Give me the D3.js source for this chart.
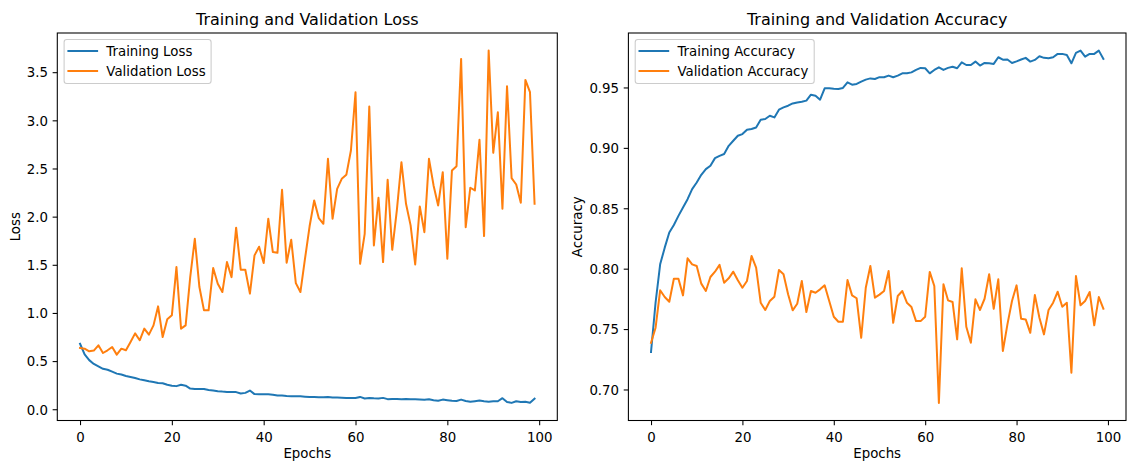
<!DOCTYPE html>
<html>
<head>
<meta charset="utf-8">
<script src="https://cdn.jsdelivr.net/npm/d3@7"></script>
<style>
  html, body { margin: 0; padding: 0; background: #fff; }
  svg { display: block; }
  text { font-family: "DejaVu Sans", sans-serif; fill: #000; }
</style>
</head>
<body>
<svg id="fig" width="1128" height="465"></svg>
<script>
// ---- data -------------------------------------------------------------
const epochs = d3.range(0, 100);

const trainLoss = [
  0.680, 0.570, 0.510, 0.470, 0.445, 0.420, 0.410, 0.390, 0.370, 0.360,
  0.345, 0.335, 0.325, 0.310, 0.300, 0.290, 0.283, 0.273, 0.270, 0.255,
  0.245, 0.240, 0.255, 0.245, 0.215, 0.210, 0.210, 0.210, 0.200, 0.195,
  0.188, 0.183, 0.180, 0.180, 0.178, 0.163, 0.170, 0.194, 0.157, 0.155,
  0.155, 0.155, 0.150, 0.142, 0.142, 0.138, 0.136, 0.135, 0.134, 0.131,
  0.128, 0.126, 0.125, 0.124, 0.127, 0.122, 0.121, 0.120, 0.118, 0.117,
  0.116, 0.128, 0.112, 0.116, 0.113, 0.112, 0.118, 0.105, 0.106, 0.107,
  0.105, 0.106, 0.105, 0.104, 0.101, 0.098, 0.104, 0.093, 0.088, 0.100,
  0.093, 0.087, 0.086, 0.100, 0.086, 0.077, 0.083, 0.090, 0.083, 0.079,
  0.083, 0.083, 0.115, 0.076, 0.066, 0.083, 0.076, 0.077, 0.067, 0.110
];

const valLoss = [
  0.636, 0.629, 0.602, 0.609, 0.664, 0.584, 0.612, 0.646, 0.567, 0.629,
  0.612, 0.698, 0.788, 0.716, 0.837, 0.775, 0.871, 1.068, 0.750, 0.934,
  0.975, 1.476, 0.837, 0.871, 1.372, 1.770, 1.269, 1.027, 1.027, 1.466,
  1.304, 1.217, 1.528, 1.372, 1.885, 1.449, 1.449, 1.200, 1.598, 1.688,
  1.518, 1.978, 1.632, 1.625, 2.279, 1.521, 1.760, 1.310, 1.217, 1.563,
  1.900, 2.168, 1.985, 1.926, 2.600, 1.978, 2.289, 2.393, 2.434, 2.687,
  3.292, 1.511, 1.822, 3.143, 1.701, 2.196, 1.528, 2.383, 1.656, 2.064,
  2.565, 2.133, 1.909, 1.504, 2.106, 1.839, 2.600, 2.324, 2.116, 2.462,
  1.563, 2.479, 2.524, 3.638, 1.891, 2.300, 2.272, 2.798, 1.798, 3.724,
  2.663, 3.084, 2.082, 3.354, 2.400, 2.334, 2.144, 3.420, 3.292, 2.133
];

const trainAcc = [
  0.7310, 0.7720, 0.8036, 0.8174, 0.8299, 0.8362, 0.8437, 0.8506, 0.8575, 0.8658,
  0.8713, 0.8777, 0.8824, 0.8852, 0.8915, 0.8934, 0.8949, 0.9017, 0.9059, 0.9100,
  0.9114, 0.9150, 0.9156, 0.9169, 0.9233, 0.9239, 0.9266, 0.9252, 0.9316, 0.9335,
  0.9349, 0.9368, 0.9376, 0.9382, 0.9391, 0.9440, 0.9432, 0.9399, 0.9493, 0.9493,
  0.9490, 0.9488, 0.9496, 0.9542, 0.9523, 0.9529, 0.9548, 0.9565, 0.9575, 0.9570,
  0.9585, 0.9584, 0.9598, 0.9584, 0.9598, 0.9617, 0.9617, 0.9625, 0.9645, 0.9662,
  0.9659, 0.9617, 0.9645, 0.9667, 0.9645, 0.9662, 0.9672, 0.9659, 0.9708, 0.9686,
  0.9686, 0.9714, 0.9681, 0.9703, 0.9700, 0.9695, 0.9750, 0.9730, 0.9731, 0.9703,
  0.9716, 0.9731, 0.9745, 0.9714, 0.9728, 0.9758, 0.9745, 0.9742, 0.9750, 0.9778,
  0.9778, 0.9769, 0.9700, 0.9786, 0.9805, 0.9755, 0.9778, 0.9778, 0.9805, 0.9736
];

const valAcc = [
  0.7387, 0.7511, 0.7821, 0.7765, 0.7726, 0.7917, 0.7917, 0.7779, 0.8086, 0.8036,
  0.8022, 0.7876, 0.7815, 0.7931, 0.7975, 0.8031, 0.7884, 0.7920, 0.7975, 0.7904,
  0.7842, 0.7898, 0.8105, 0.8008, 0.7718, 0.7658, 0.7732, 0.7768, 0.7989, 0.7954,
  0.7788, 0.7655, 0.7710, 0.7898, 0.7641, 0.7815, 0.7801, 0.7829, 0.7862, 0.7732,
  0.7602, 0.7561, 0.7561, 0.7906, 0.7779, 0.7755, 0.7428, 0.7842, 0.8022, 0.7760,
  0.7785, 0.7815, 0.7981, 0.7552, 0.7774, 0.7815, 0.7718, 0.7682, 0.7566, 0.7566,
  0.7602, 0.7973, 0.7857, 0.6889, 0.7871, 0.7738, 0.7724, 0.7415, 0.8003, 0.7519,
  0.7387, 0.7746, 0.7658, 0.7751, 0.7954, 0.7668, 0.7912, 0.7318, 0.7539, 0.7732,
  0.7862, 0.7585, 0.7580, 0.7469, 0.7782, 0.7594, 0.7456, 0.7658, 0.7718, 0.7809,
  0.7685, 0.7718, 0.7138, 0.7939, 0.7697, 0.7732, 0.7807, 0.7531, 0.7765, 0.7668
];

const xTicks = [0, 20, 40, 60, 80, 100];
const lossTicks = [0.0, 0.5, 1.0, 1.5, 2.0, 2.5, 3.0, 3.5];
const accTicks = [0.70, 0.75, 0.80, 0.85, 0.90, 0.95];

const BLUE = "#1f77b4";
const ORANGE = "#ff7f0e";

// ---- layout -----------------------------------------------------------
const svg = d3.select("#fig");
const FONT = 13.33;      // 10pt at 96 dpi
const TITLE_FONT = 16;   // 12pt
const TICK = 4.67;       // 3.5pt
const PAD = 4.67;
const LW = 2;            // 1.5pt line width
const SPINE = 1.07;      // 0.8pt

// pad a [min, max] extent by 5% on each side
function padded(ext) {
  const m = (ext[1] - ext[0]) * 0.05;
  return [ext[0] - m, ext[1] + m];
}

function panel(cfg) {
  const { left, right, top, bottom, series, yTicks, yFmt, title, ylabel, ylabelX, legendW, clipId } = cfg;
  const g = svg.append("g");

  const x = d3.scaleLinear().domain(padded([0, 99])).range([left, right]);
  const allY = series.flatMap(s => s.values);
  const y = d3.scaleLinear().domain(padded(d3.extent(allY))).range([bottom, top]);

  g.append("clipPath").attr("id", clipId)
    .append("rect").attr("x", left).attr("y", top)
    .attr("width", right - left).attr("height", bottom - top);

  // data lines
  const line = d3.line()
    .x((d, i) => x(epochs[i]))
    .y(d => y(d));
  const lines = g.append("g").attr("clip-path", `url(#${clipId})`);
  series.forEach(s => {
    lines.append("path")
      .datum(s.values)
      .attr("d", line)
      .attr("fill", "none")
      .attr("stroke", s.color)
      .attr("stroke-width", LW)
      .attr("stroke-linejoin", "round")
      .attr("stroke-linecap", "square");
  });

  // axes
  const xAxis = d3.axisBottom(x).tickValues(xTicks).tickFormat(d3.format("d"))
    .tickSizeInner(TICK).tickSizeOuter(0).tickPadding(PAD);
  const gx = g.append("g").attr("transform", `translate(0,${bottom})`).call(xAxis);
  gx.select(".domain").remove();
  gx.selectAll(".tick line").attr("stroke", "#000").attr("stroke-width", SPINE);
  gx.selectAll(".tick text")
    .attr("y", 21).attr("dy", null)
    .style("font-size", FONT + "px").style("font-family", "DejaVu Sans").attr("fill", "#000");

  const yAxis = d3.axisLeft(y).tickValues(yTicks).tickFormat(yFmt)
    .tickSizeInner(TICK).tickSizeOuter(0).tickPadding(PAD);
  const gy = g.append("g").attr("transform", `translate(${left},0)`).call(yAxis);
  gy.select(".domain").remove();
  gy.selectAll(".tick line").attr("stroke", "#000").attr("stroke-width", SPINE);
  gy.selectAll(".tick text")
    .attr("dy", "0.36em")
    .style("font-size", FONT + "px").style("font-family", "DejaVu Sans").attr("fill", "#000");

  // spines
  g.append("rect")
    .attr("x", left).attr("y", top)
    .attr("width", right - left).attr("height", bottom - top)
    .attr("fill", "none").attr("stroke", "#000").attr("stroke-width", SPINE);

  // title and axis labels
  const cx = (left + right) / 2;
  g.append("text").attr("x", cx).attr("y", 25)
    .attr("text-anchor", "middle").style("font-size", TITLE_FONT + "px").text(title);
  g.append("text").attr("x", cx).attr("y", 458)
    .attr("text-anchor", "middle").style("font-size", FONT + "px").text("Epochs");
  g.append("text")
    .attr("transform", `translate(${ylabelX},${(top + bottom) / 2}) rotate(-90)`)
    .attr("text-anchor", "middle").style("font-size", FONT + "px").text(ylabel);

  // legend, upper left
  const lx = left + 6.8, ly = top + 6.5, lh = 44;
  const lg = g.append("g");
  lg.append("rect")
    .attr("x", lx).attr("y", ly).attr("width", legendW).attr("height", lh)
    .attr("rx", 2.7).attr("ry", 2.7)
    .attr("fill", "#fff").attr("fill-opacity", 0.8)
    .attr("stroke", "#cccccc").attr("stroke-width", SPINE);
  series.forEach((s, i) => {
    const yy = ly + 11.5 + i * 20;
    lg.append("line")
      .attr("x1", lx + 4.3).attr("x2", lx + 33)
      .attr("y1", yy).attr("y2", yy)
      .attr("stroke", s.color).attr("stroke-width", LW)
      .attr("stroke-linecap", "square");
    lg.append("text")
      .attr("x", lx + 42.2).attr("y", yy).attr("dy", "0.36em")
      .style("font-size", FONT + "px").text(s.name);
  });
}

panel({
  left: 57.3, right: 557.3, top: 33, bottom: 420.5,
  series: [
    { name: "Training Loss", values: trainLoss, color: BLUE },
    { name: "Validation Loss", values: valLoss, color: ORANGE }
  ],
  yTicks: lossTicks, yFmt: d3.format(".1f"),
  title: "Training and Validation Loss", ylabel: "Loss", ylabelX: 20,
  legendW: 147, clipId: "clip-loss"
});

panel({
  left: 628.4, right: 1126, top: 33, bottom: 420.5,
  series: [
    { name: "Training Accuracy", values: trainAcc, color: BLUE },
    { name: "Validation Accuracy", values: valAcc, color: ORANGE }
  ],
  yTicks: accTicks, yFmt: d3.format(".2f"),
  title: "Training and Validation Accuracy", ylabel: "Accuracy", ylabelX: 582,
  legendW: 179, clipId: "clip-acc"
});
</script>
</body>
</html>
